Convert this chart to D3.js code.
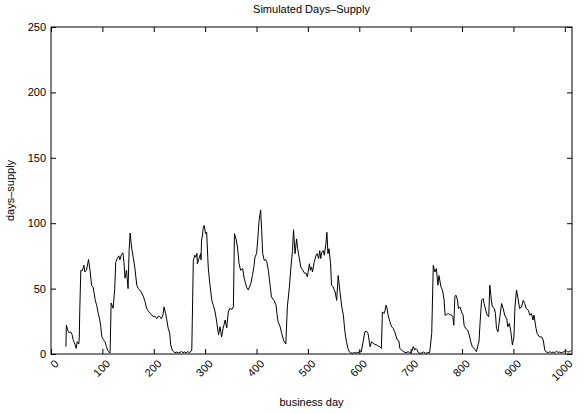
<!DOCTYPE html>
<html><head><meta charset="utf-8">
<script src="https://cdn.jsdelivr.net/npm/d3@7"></script>
<style>
body{margin:0;background:#fff;}
text{font-family:"Liberation Sans",Arial,Helvetica,sans-serif;font-size:11px;fill:#000;}
</style></head><body>
<svg id="c" width="586" height="414"></svg>
<script>
const title = "Simulated Days\u2013Supply";
const xLabel = "business day";
const yLabel = "days\u2013supply";
const xTicks = [0,100,200,300,400,500,600,700,800,900,1000];
const yTicks = [0,50,100,150,200,250];
// [business day, days-supply]
const series = [
[29,5.6],[30,22],[32,19],[34,17],[36,16],[38,17],[41,15],[43,11],[45,9],[47,7],[49,4.3],[51,9.4],[54,7.6],[55,12],[56,33.5],[58,64],[60,63.5],[63,66],[64,67.8],[66,62.7],[69,64],[71,68],[73,72.2],[76,64],[79,52.6],[82,51],[86,41.4],[89,37],[92,31.2],[95,26],[97,20.6],[99,13],[102,11],[105,9.4],[108,5.6],[110,3],[112,1.8],[115,0.8],
[117,39],[119,37],[121,35],[124,50],[126,70],[129,73],[132,75],[134,72],[137,76],[140,77.4],[142,70],[144,58],[147,64],[150,50],[152,79],[154,92.5],[157,81],[160,74],[163,66.5],[167,52.6],[170,50],[173,48.8],[176,47],[180,43.7],[183,40],[186,35],[189,33],[193,31],[196,30],[199,28.5],[202,29],[206,27],[209,29],[212,28.5],[215,27],[218,30],[220,36],[223,31],[225,27],[228,19.8],[231,16],[233,7],[236,3],[238,2],[241,1],[245,1.5],
[248,0.8],[251,1.2],[254,2],[257,1],[260,1.6],[263,0.8],[266,1.8],[270,1],[274,3],
[277,71.6],[280,75.5],[282,74],[284,77],[285,69],[287,72],[289,74],[291,76.7],[292,72],[293,87],[295,91],[296,95.8],[298,98.3],[300,94],[301,92],[303,93],[306,66.5],[309,54],[313,41],[316,37],[319,33],[322,26],[326,14.5],[329,20.8],[332,13],[335,19.6],[339,26],[342,20],[345,32],[348,35],[352,34],[355,36],
[357,92],[360,88],[363,81.8],[366,69],[369,64],[373,65.3],[376,57.7],[378,55],[381,50.8],[384,49],[386,51],[389,54],[392,60],[395,67],[397,74],[400,76.7],[402,85.6],[405,102],[408,110],[410,95],[412,76.7],[415,71.6],[418,72],[420,70.4],[423,64],[426,54],[429,43.7],[432,42],[434,41],[438,37.3],[440,30],[442,24.6],[446,20.8],[449,15.7],[451,13],[453,10],[457,7.6],
[460,36],[464,51.3],[467,66.5],[470,79],[472,95],[475,76.7],[478,88],[480,80.5],[483,74],[486,66.5],[490,64],[494,61.5],[496,62],[499,59],[503,69],[505,64],[507,66.5],[509,62.7],[512,70],[516,75.5],[518,76.7],[521,73],[523,79],[525,73],[527,78],[530,79],[532,75.5],[535,84.4],[537,93],[539,76.7],[541,80.5],[544,70],[546,52.6],[549,51.3],[553,47.5],[556,41],[559,60],[562,48.8],[566,36],[569,29.7],[572,17],[575,9.4],[578,4.3],[580,2],[583,1],[586,0.5],
[590,1],[595,0.8],[601,1.8],[604,1.8],[608,10.7],[611,17],[614,17.5],[617,15.7],[621,5.6],[624,9.4],[627,8.1],[630,7.5],[634,6.9],[637,6],[640,5.6],[643,4.3],[645,32.2],[648,31],[650,33],[652,37.3],[654,34.8],[656,30],[658,27],[660,24],[663,20.8],[666,19.6],[669,17],[672,13],[674,10.7],[677,10],[679,4.3],[682,3],[686,1.8],[691,1],[695,1.8],[698,1],[702,1.8],[705,5.6],[708,3],[710,4.3],[712,3.5],[715,1],[718,0.5],[722,0.8],[725,1.5],[729,0.5],[733,1],[737,1],[741,15.7],
[744,67.8],[747,62.7],[750,65.3],[753,52.6],[755,60],[759,51.3],[762,48.8],[765,41.4],[767,29.7],[770,30],[773,31],[776,30],[780,29.7],[782,28.5],[784,22],[786,43.7],[788,45],[791,41.4],[793,34.8],[796,36],[799,32.2],[802,29.7],[804,22],[807,19.6],[811,18.3],[814,14.5],[817,9.4],[820,5.6],[825,3.5],[828,1.8],[831,6.9],[833,9.4],[835,23.4],[838,41],[841,42.4],[843,38.6],[846,33.5],[849,29.7],[852,28.5],[854,52.6],[857,41.4],[859,36],[863,34.8],[865,31],[867,19.6],[870,17],[874,29.7],[877,38.6],[880,34.8],[883,29.7],[887,27],[889,20.8],[892,23.4],[895,17],[898,6.9],[901,13],[903,36],[906,48.8],[909,42.4],[912,34.8],[916,36],[919,41],[922,38.6],[925,34.8],[929,33.5],[932,29.7],[935,31],[938,26],[940,29.7],[944,19.6],[946,15.7],[951,13],[955,13],[958,10.7],[961,3],[964,1.5],[968,1],[971,1.8],[974,1],[977,1.5],[980,1],[984,2],[987,1.2],[990,1.5],[993,1],[997,1.5],[1000,2],[1003,2.5],[1006,1.5],[1010,1.8],[1013,3]
];

const m = {l:51, r:572, t:27, b:354};
const svg = d3.select("#c");
const x = d3.scaleLinear().domain([0,1014]).range([m.l, m.r]);
const y = d3.scaleLinear().domain([0,250]).range([m.b, m.t]);

svg.append("rect").attr("x",m.l).attr("y",m.t).attr("width",m.r-m.l).attr("height",m.b-m.t)
  .attr("fill","none").attr("stroke","#000").attr("stroke-width",1);

const gx = svg.append("g").attr("transform",`translate(0,${m.b})`)
  .call(d3.axisBottom(x).tickValues(xTicks).tickSizeInner(-5).tickSizeOuter(0).tickFormat(""));
const gxt = svg.append("g").attr("transform",`translate(0,${m.t})`)
  .call(d3.axisTop(x).tickValues(xTicks).tickSizeInner(-5).tickSizeOuter(0).tickFormat(""));
const gy = svg.append("g").attr("transform",`translate(${m.l},0)`)
  .call(d3.axisLeft(y).tickValues(yTicks).tickSizeInner(-5).tickSizeOuter(0).tickPadding(5));
const gyr = svg.append("g").attr("transform",`translate(${m.r},0)`)
  .call(d3.axisRight(y).tickValues(yTicks).tickSizeInner(-5).tickSizeOuter(0).tickFormat(""));
[gx,gxt,gy,gyr].forEach(g=>{g.select(".domain").remove(); g.selectAll("line").attr("stroke","#000");});
gy.selectAll("text").style("font-size","11px").attr("font-family","Liberation Sans, Arial, sans-serif").attr("fill","#000");

svg.append("g").selectAll("text").data(xTicks).join("text")
  .attr("transform",d=>`translate(${x(d)+3},${m.b+5}) rotate(-45)`)
  .attr("text-anchor","end").attr("dy","0.7em").text(d=>d);

svg.append("path").datum(series).attr("fill","none").attr("stroke","#000").attr("stroke-width",1)
  .attr("stroke-linejoin","round")
  .attr("d", d3.line().x(d=>x(d[0])).y(d=>y(d[1])));

svg.append("text").attr("x",(m.l+m.r)/2).attr("y",13).attr("text-anchor","middle").text(title);
svg.append("text").attr("x",(m.l+m.r)/2).attr("y",406).attr("text-anchor","middle").text(xLabel);
svg.append("text").attr("transform",`translate(14,${(m.t+m.b)/2}) rotate(-90)`).attr("text-anchor","middle").text(yLabel);
</script></body></html>
